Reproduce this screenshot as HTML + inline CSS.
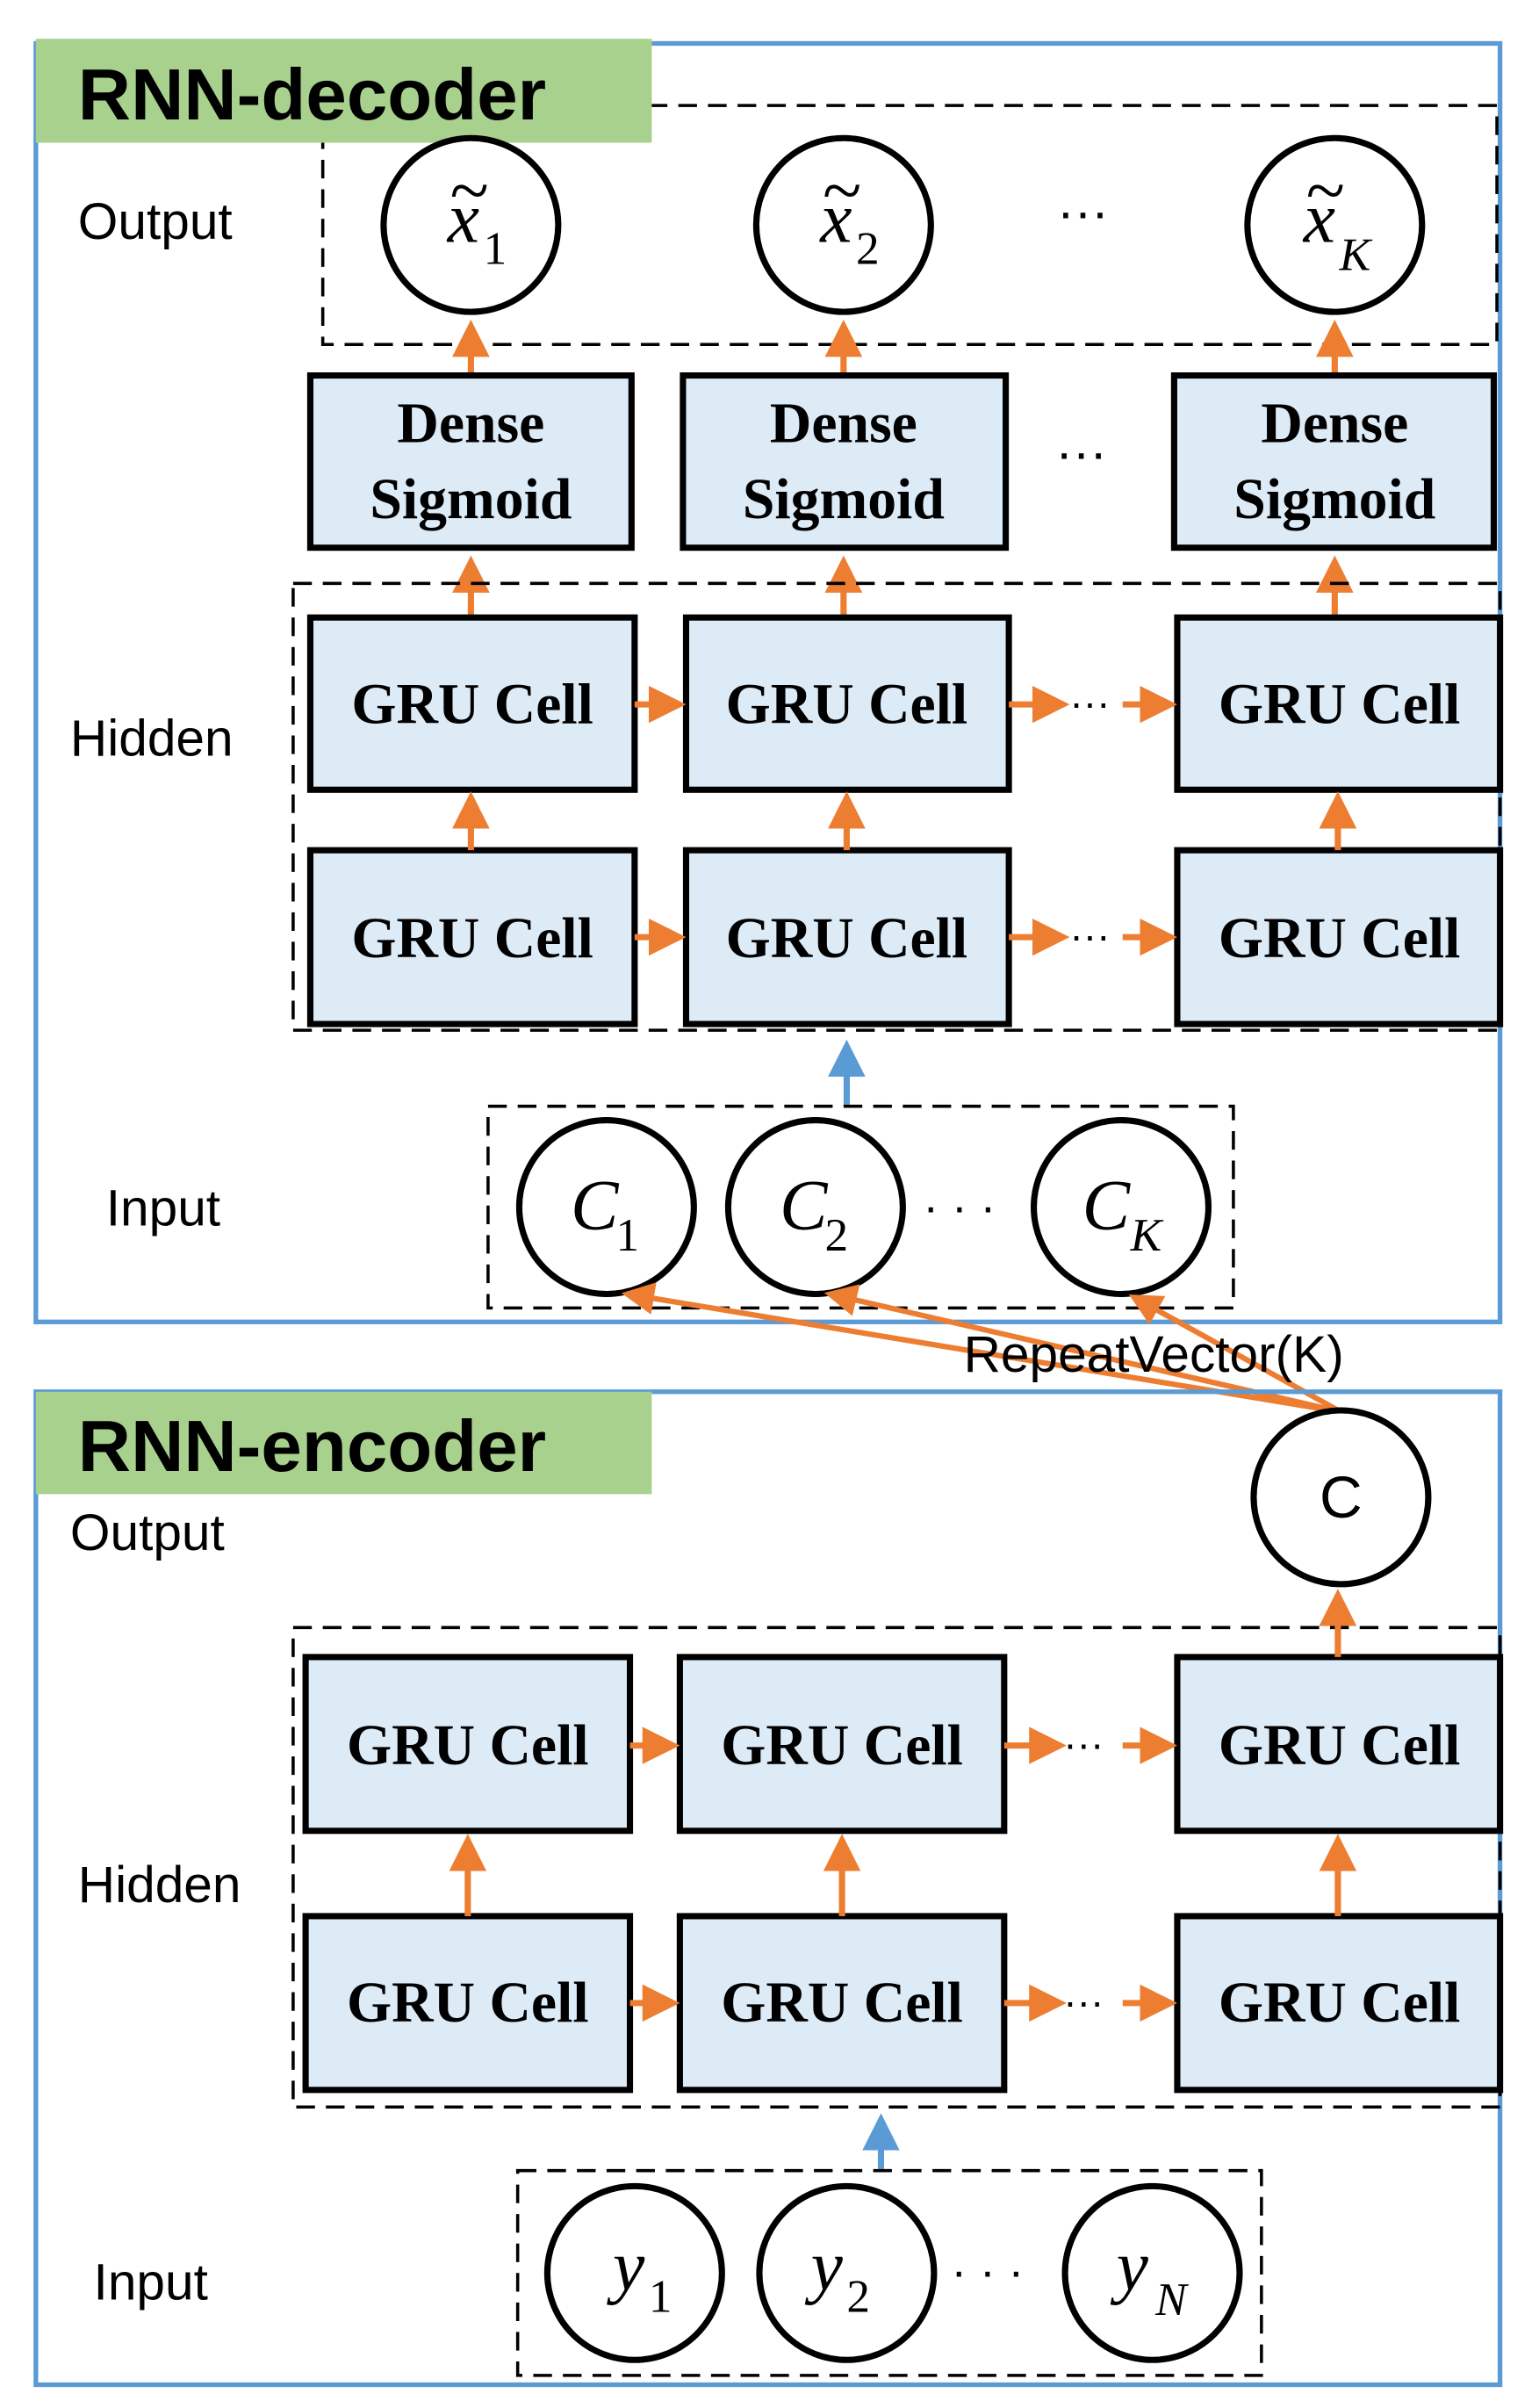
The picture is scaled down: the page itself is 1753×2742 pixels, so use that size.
<!DOCTYPE html>
<html><head><meta charset="utf-8"><style>
html,body{margin:0;padding:0;background:#fff}
svg{display:block}
.lbl{font-family:"Liberation Sans",sans-serif;font-size:33px;fill:#000}
.gru{font-family:"Liberation Serif",serif;font-weight:bold;font-size:37px;fill:#000}
.var{font-family:"Liberation Serif",serif;font-style:italic;font-size:46px;fill:#000}
.sub{font-family:"Liberation Serif",serif;font-size:30px;fill:#000}
.subi{font-family:"Liberation Serif",serif;font-style:italic;font-size:30px;fill:#000}
.title{font-family:"Liberation Sans",sans-serif;font-weight:bold;font-size:47px;fill:#000}
</style></head><body>
<svg width="1753" height="2742" viewBox="0 0 987 1552" preserveAspectRatio="none" xmlns="http://www.w3.org/2000/svg">
<defs>
<marker id="oa" markerWidth="6" markerHeight="6" refX="5" refY="3" orient="auto" markerUnits="strokeWidth"><path d="M0,0 L6,3 L0,6 z" fill="#ED7D31"/></marker>
<marker id="ba" markerWidth="6" markerHeight="6" refX="5" refY="3" orient="auto" markerUnits="strokeWidth"><path d="M0,0 L6,3 L0,6 z" fill="#5B9BD5"/></marker>
</defs>
<!-- Decoder -->
<rect x="23" y="28" width="939" height="824" fill="none" stroke="#5B9BD5" stroke-width="3"/>
<rect x="207" y="68" width="753" height="154" fill="none" stroke="#000" stroke-width="2" stroke-dasharray="12,7"/>
<rect x="23" y="25" width="395" height="67" fill="#A9D18E"/>
<text x="50" y="77" class="title">RNN-decoder</text>
<text x="50" y="154" class="lbl">Output</text>
<text x="45" y="487" class="lbl">Hidden</text>
<text x="68" y="790" class="lbl">Input</text>

<g stroke="#000" stroke-width="4" fill="#fff">
<circle cx="302" cy="145" r="56"/><circle cx="541" cy="145" r="56"/><circle cx="856" cy="145" r="56"/>
</g>
<text x="287" y="156" class="var">x</text><text x="288" y="138" class="var" font-size="36" font-style="normal">~</text><text x="310" y="170" class="sub">1</text>
<text x="526" y="156" class="var">x</text><text x="527" y="138" class="var" font-size="36" font-style="normal">~</text><text x="549" y="170" class="sub">2</text>
<text x="836" y="156" class="var">x</text><text x="837" y="138" class="var" font-size="36" font-style="normal">~</text><text x="859" y="174" class="subi">K</text>
<text x="678" y="148" class="lbl">···</text>

<g stroke="#ED7D31" stroke-width="4" fill="none">
<line x1="302" y1="242" x2="302" y2="210" marker-end="url(#oa)"/>
<line x1="541" y1="242" x2="541" y2="210" marker-end="url(#oa)"/>
<line x1="856" y1="242" x2="856" y2="210" marker-end="url(#oa)"/>
<line x1="302" y1="398" x2="302" y2="362" marker-end="url(#oa)"/>
<line x1="541" y1="398" x2="541" y2="362" marker-end="url(#oa)"/>
<line x1="856" y1="398" x2="856" y2="362" marker-end="url(#oa)"/>
</g>

<g stroke="#000" stroke-width="4" fill="#DDEBF7">
<rect x="199" y="242" width="206" height="111"/>
<rect x="438" y="242" width="207" height="111"/>
<rect x="753" y="242" width="205" height="111"/>
</g>
<g class="gru" text-anchor="middle">
<text x="302" y="285">Dense</text><text x="302" y="334">Sigmoid</text>
<text x="541" y="285">Dense</text><text x="541" y="334">Sigmoid</text>
<text x="856" y="285">Dense</text><text x="856" y="334">Sigmoid</text>
</g>
<text x="677" y="303" class="lbl">···</text>

<rect x="188" y="376" width="774" height="288" fill="none" stroke="#000" stroke-width="2" stroke-dasharray="12,7"/>
<g stroke="#000" stroke-width="4" fill="#DDEBF7">
<rect x="199" y="398" width="208" height="111"/><rect x="440" y="398" width="207" height="111"/><rect x="755" y="398" width="207" height="111"/>
<rect x="199" y="548" width="208" height="112"/><rect x="440" y="548" width="207" height="112"/><rect x="755" y="548" width="207" height="112"/>
</g>
<g class="gru" text-anchor="middle">
<text x="303" y="466">GRU Cell</text><text x="543" y="466">GRU Cell</text><text x="859" y="466">GRU Cell</text>
<text x="303" y="617">GRU Cell</text><text x="543" y="617">GRU Cell</text><text x="859" y="617">GRU Cell</text>
</g>
<g stroke="#ED7D31" stroke-width="4" fill="none">
<line x1="407" y1="454" x2="436" y2="454" marker-end="url(#oa)"/>
<line x1="647" y1="454" x2="682" y2="454" marker-end="url(#oa)"/>
<line x1="720" y1="454" x2="751" y2="454" marker-end="url(#oa)"/>
<line x1="407" y1="604" x2="436" y2="604" marker-end="url(#oa)"/>
<line x1="647" y1="604" x2="682" y2="604" marker-end="url(#oa)"/>
<line x1="720" y1="604" x2="751" y2="604" marker-end="url(#oa)"/>
<line x1="302" y1="548" x2="302" y2="514" marker-end="url(#oa)"/>
<line x1="543" y1="548" x2="543" y2="514" marker-end="url(#oa)"/>
<line x1="858" y1="548" x2="858" y2="514" marker-end="url(#oa)"/>
</g>
<text x="686" y="462" font-family="Liberation Sans" font-size="26">···</text>
<text x="686" y="612" font-family="Liberation Sans" font-size="26">···</text>

<line x1="543" y1="712" x2="543" y2="674" stroke="#5B9BD5" stroke-width="4" marker-end="url(#ba)"/>
<rect x="313" y="713" width="478" height="130" fill="none" stroke="#000" stroke-width="2" stroke-dasharray="12,7"/>
<g stroke="#000" stroke-width="4" fill="#fff">
<circle cx="389" cy="778" r="56"/><circle cx="523" cy="778" r="56"/><circle cx="719" cy="778" r="56"/>
</g>
<text x="366" y="792" class="var">C</text><text x="395" y="806" class="sub" font-size="26">1</text>
<text x="500" y="792" class="var">C</text><text x="529" y="806" class="sub" font-size="26">2</text>
<text x="694" y="792" class="var">C</text><text x="725" y="806" class="subi" font-size="26">K</text>
<text x="592" y="788" font-family="Liberation Sans" font-size="30">· · ·</text>

<g stroke="#ED7D31" stroke-width="3.5" fill="none">
<line x1="860" y1="910" x2="402" y2="834" marker-end="url(#oa)"/>
<line x1="860" y1="910" x2="532" y2="834" marker-end="url(#oa)"/>
<line x1="860" y1="910" x2="727" y2="836" marker-end="url(#oa)"/>
</g>
<text x="618" y="884" class="lbl" font-size="32">RepeatVector(K)</text>

<!-- Encoder -->
<rect x="23" y="897" width="939" height="640" fill="none" stroke="#5B9BD5" stroke-width="3"/>
<rect x="23" y="897" width="395" height="66" fill="#A9D18E"/>
<text x="50" y="948" class="title">RNN-encoder</text>
<text x="45" y="999" class="lbl">Output</text>
<text x="50" y="1226" class="lbl">Hidden</text>
<text x="60" y="1482" class="lbl">Input</text>

<circle cx="860" cy="965" r="56" stroke="#000" stroke-width="4" fill="#fff"/>
<text x="860" y="978" text-anchor="middle" font-family="Liberation Sans" font-size="38">C</text>

<rect x="188" y="1049" width="774" height="309" fill="none" stroke="#000" stroke-width="2" stroke-dasharray="12,7"/>
<g stroke="#000" stroke-width="4" fill="#DDEBF7">
<rect x="196" y="1068" width="208" height="112"/><rect x="436" y="1068" width="208" height="112"/><rect x="755" y="1068" width="207" height="112"/>
<rect x="196" y="1235" width="208" height="112"/><rect x="436" y="1235" width="208" height="112"/><rect x="755" y="1235" width="207" height="112"/>
</g>
<g class="gru" text-anchor="middle">
<text x="300" y="1137">GRU Cell</text><text x="540" y="1137">GRU Cell</text><text x="859" y="1137">GRU Cell</text>
<text x="300" y="1303">GRU Cell</text><text x="540" y="1303">GRU Cell</text><text x="859" y="1303">GRU Cell</text>
</g>
<g stroke="#ED7D31" stroke-width="4" fill="none">
<line x1="404" y1="1125" x2="432" y2="1125" marker-end="url(#oa)"/>
<line x1="644" y1="1125" x2="680" y2="1125" marker-end="url(#oa)"/>
<line x1="720" y1="1125" x2="751" y2="1125" marker-end="url(#oa)"/>
<line x1="404" y1="1291" x2="432" y2="1291" marker-end="url(#oa)"/>
<line x1="644" y1="1291" x2="680" y2="1291" marker-end="url(#oa)"/>
<line x1="720" y1="1291" x2="751" y2="1291" marker-end="url(#oa)"/>
<line x1="300" y1="1235" x2="300" y2="1186" marker-end="url(#oa)"/>
<line x1="540" y1="1235" x2="540" y2="1186" marker-end="url(#oa)"/>
<line x1="858" y1="1235" x2="858" y2="1186" marker-end="url(#oa)"/>
<line x1="858" y1="1068" x2="858" y2="1028" marker-end="url(#oa)"/>
</g>
<text x="682" y="1133" font-family="Liberation Sans" font-size="26">···</text>
<text x="682" y="1299" font-family="Liberation Sans" font-size="26">···</text>

<line x1="565" y1="1398" x2="565" y2="1366" stroke="#5B9BD5" stroke-width="4" marker-end="url(#ba)"/>
<rect x="332" y="1399" width="477" height="132" fill="none" stroke="#000" stroke-width="2" stroke-dasharray="12,7"/>
<g stroke="#000" stroke-width="4" fill="#fff">
<circle cx="407" cy="1465" r="56"/><circle cx="543" cy="1465" r="56"/><circle cx="739" cy="1465" r="56"/>
</g>
<text x="393" y="1476" class="var">y</text><text x="416" y="1490" class="sub">1</text>
<text x="520" y="1476" class="var">y</text><text x="543" y="1490" class="sub">2</text>
<text x="716" y="1476" class="var">y</text><text x="741" y="1492" class="subi">N</text>
<text x="610" y="1474" font-family="Liberation Sans" font-size="30">· · ·</text>
</svg>
</body></html>
